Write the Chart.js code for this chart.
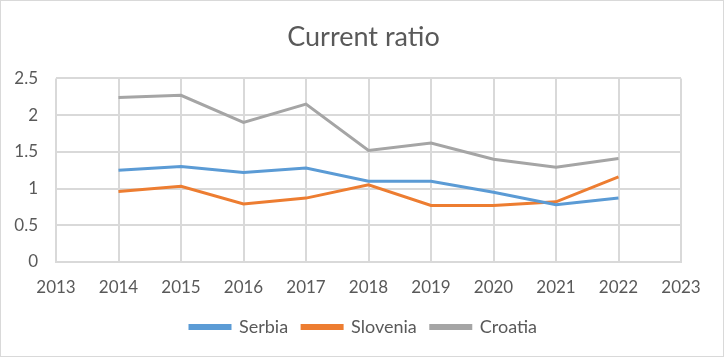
<!DOCTYPE html>
<html>
<head>
<meta charset="utf-8">
<script src="https://cdn.jsdelivr.net/npm/chart.js@4/dist/chart.umd.min.js"></script>
<style>
html,body{margin:0;padding:0;background:#fff;}
#wrap{width:724px;height:357px;position:relative;}
</style>
</head>
<body>
<div id="wrap"><canvas id="c" width="724" height="357"></canvas></div>
<script>
const years = [2014, 2015, 2016, 2017, 2018, 2019, 2020, 2021, 2022];
const serbia = [1.25, 1.30, 1.22, 1.28, 1.10, 1.10, 0.95, 0.78, 0.87];
const slovenia = [0.96, 1.03, 0.79, 0.87, 1.05, 0.77, 0.77, 0.82, 1.16];
const croatia = [2.24, 2.27, 1.90, 2.15, 1.52, 1.62, 1.40, 1.29, 1.41];
const seriesNames = ['Serbia', 'Slovenia', 'Croatia'];
const colors = ['#5B9BD5', '#ED7D31', '#A5A5A5'];

const toPts = arr => arr.map((v, i) => ({x: years[i], y: v}));
const FONT = 'Lato, "Open Sans", sans-serif';
const TXT = '#595959';
const GRID = '#D9D9D9';

const borderPlugin = {
  id: 'outerBorder',
  beforeDraw(chart) {
    const ctx = chart.ctx;
    ctx.save();
    ctx.fillStyle = '#fff';
    ctx.fillRect(0, 0, chart.width, chart.height);
    ctx.strokeStyle = '#D9D9D9';
    ctx.lineWidth = 1;
    ctx.strokeRect(0.5, 0.5, chart.width - 1, chart.height - 1);
    ctx.restore();
  }
};

new Chart(document.getElementById('c'), {
  type: 'line',
  data: {
    datasets: [serbia, slovenia, croatia].map((d, i) => ({
      label: seriesNames[i],
      data: toPts(d),
      borderColor: colors[i],
      backgroundColor: colors[i],
      borderWidth: 3,
      pointRadius: 0,
      tension: 0,
      fill: false
    }))
  },
  options: {
    responsive: false,
    animation: false,
    layout: {padding: {left: 3, right: 0, top: 0, bottom: 11}},
    plugins: {
      title: {
        display: true,
        text: 'Current ratio',
        color: TXT,
        font: {family: FONT, size: 27, weight: 'normal'},
        padding: {top: 21, bottom: 25}
      },
      legend: {
        position: 'bottom',
        labels: {
          color: TXT,
          font: {family: FONT, size: 18},
          boxWidth: 40,
          boxHeight: 3,
          padding: 14
        }
      },
      tooltip: {enabled: false}
    },
    scales: {
      x: {
        type: 'linear',
        min: 2013,
        max: 2023,
        ticks: {
          stepSize: 1,
          color: TXT,
          font: {family: FONT, size: 17},
          padding: 15,
          callback: v => String(v),
          maxRotation: 0
        },
        grid: {color: GRID, lineWidth: 2, drawTicks: false},
        border: {color: GRID, width: 2},
        afterFit(s) { s.height = 42; }
      },
      y: {
        min: 0,
        max: 2.5,
        ticks: {
          stepSize: 0.5,
          color: TXT,
          font: {family: FONT, size: 17},
          padding: 18,
          callback: v => String(v)
        },
        grid: {color: GRID, lineWidth: 2, drawTicks: false},
        border: {display: false},
        afterFit(s) { s.width = 53; }
      },
      yPad: {
        position: 'right',
        display: true,
        ticks: {display: false},
        grid: {display: false, drawTicks: false},
        border: {display: false},
        afterFit(s) { s.width = 43; }
      }
    }
  },
  plugins: [borderPlugin]
});
</script>
</body>
</html>
